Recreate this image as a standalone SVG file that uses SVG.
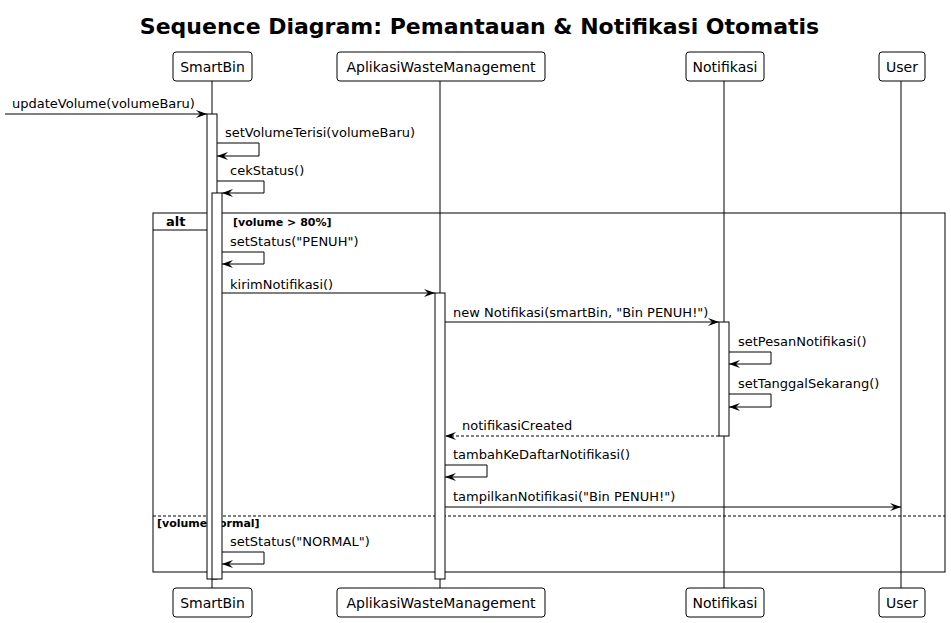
<svg xmlns="http://www.w3.org/2000/svg" width="951" height="623" viewBox="0 0 951 623">
<defs>
<style>
text{font-family:"DejaVu Sans",sans-serif;fill:#000}
.t{font-size:22px;font-weight:bold}
.p{font-size:14px}
.m{font-size:13px}
.g{font-size:11px;font-weight:bold}
.box{fill:#fff;stroke:#000;stroke-width:1}
.ll{stroke:#000;stroke-width:1}
.act{fill:#fff;stroke:#000;stroke-width:1}
.msg{fill:none;stroke:#000;stroke-width:1}
.dash{stroke-dasharray:3,2}
</style>
<marker id="ah" markerWidth="12" markerHeight="10" refX="11" refY="5" orient="auto" markerUnits="userSpaceOnUse">
<polygon points="0,1 11,5 0,9 4,5" fill="#000"/>
</marker>
</defs>
<rect width="951" height="623" fill="#fff"/>
<text class="t" x="479.5" y="34" text-anchor="middle">Sequence Diagram: Pemantauan &amp; Notifikasi Otomatis</text>

<g id="lifelines">
<line class="ll" x1="212" y1="81" x2="212" y2="588"/>
<line class="ll" x1="440" y1="81" x2="440" y2="588"/>
<line class="ll" x1="724" y1="81" x2="724" y2="588"/>
<line class="ll" x1="901" y1="81" x2="901" y2="588"/>
</g>

<g id="frame-alt">
<rect x="153" y="213" width="792" height="359" fill="none" stroke="#000" stroke-width="1"/>
<path d="M153,230 H208 L218,220 V213" fill="none" stroke="#000" stroke-width="1"/>
<text x="166" y="226" font-size="13" font-weight="bold">alt</text>
<text class="g" x="233" y="226">[volume &gt; 80%]</text>
<line x1="153" y1="516" x2="945" y2="516" stroke="#000" stroke-width="1" stroke-dasharray="3,2"/>
<text class="g" x="157" y="527">[volume normal]</text>
</g>

<g id="activations">
<rect class="act" x="207" y="114" width="10" height="465"/>
<rect class="act" x="212" y="193" width="10" height="386"/>
<rect class="act" x="435" y="293" width="10" height="286"/>
<rect class="act" x="719" y="322" width="10" height="114"/>
</g>

<g id="connectors">
<line class="msg" x1="5" y1="114" x2="207" y2="114" marker-end="url(#ah)"/>
<text class="m" x="12" y="108">updateVolume(volumeBaru)</text>

<polyline class="msg" points="217,143 259,143 259,156 217,156" marker-end="url(#ah)"/>
<text class="m" x="225" y="137">setVolumeTerisi(volumeBaru)</text>

<polyline class="msg" points="217,181 264,181 264,193 222,193" marker-end="url(#ah)"/>
<text class="m" x="230" y="175">cekStatus()</text>

<polyline class="msg" points="222,252 264,252 264,264 222,264" marker-end="url(#ah)"/>
<text class="m" x="230" y="246">setStatus("PENUH")</text>

<line class="msg" x1="222" y1="293" x2="435" y2="293" marker-end="url(#ah)"/>
<text class="m" x="230" y="289">kirimNotifikasi()</text>

<line class="msg" x1="445" y1="322" x2="719" y2="322" marker-end="url(#ah)"/>
<text class="m" x="453" y="317">new Notifikasi(smartBin, "Bin PENUH!")</text>

<polyline class="msg" points="729,352 771,352 771,364 729,364" marker-end="url(#ah)"/>
<text class="m" x="738" y="346">setPesanNotifikasi()</text>

<polyline class="msg" points="729,394 771,394 771,407 729,407" marker-end="url(#ah)"/>
<text class="m" x="738" y="388">setTanggalSekarang()</text>

<line class="msg dash" x1="719" y1="436" x2="445" y2="436" marker-end="url(#ah)"/>
<text class="m" x="462" y="430">notifikasiCreated</text>

<polyline class="msg" points="445,465 487,465 487,477 445,477" marker-end="url(#ah)"/>
<text class="m" x="453" y="459">tambahKeDaftarNotifikasi()</text>

<line class="msg" x1="445" y1="507" x2="901" y2="507" marker-end="url(#ah)"/>
<text class="m" x="453" y="501">tampilkanNotifikasi("Bin PENUH!")</text>

<polyline class="msg" points="222,552 264,552 264,564 222,564" marker-end="url(#ah)"/>
<text class="m" x="230" y="546">setStatus("NORMAL")</text>
</g>

<g id="SmartBin">
<rect class="box" x="173" y="52" width="79" height="29" rx="3"/>
<text class="p" x="212.5" y="71.5" text-anchor="middle">SmartBin</text>
<rect class="box" x="173" y="588" width="79" height="29" rx="3"/>
<text class="p" x="212.5" y="607.5" text-anchor="middle">SmartBin</text>
</g>
<g id="AplikasiWasteManagement">
<rect class="box" x="337" y="52" width="208" height="29" rx="3"/>
<text class="p" x="441" y="71.5" text-anchor="middle">AplikasiWasteManagement</text>
<rect class="box" x="337" y="588" width="208" height="29" rx="3"/>
<text class="p" x="441" y="607.5" text-anchor="middle">AplikasiWasteManagement</text>
</g>
<g id="Notifikasi">
<rect class="box" x="686" y="52" width="78" height="29" rx="3"/>
<text class="p" x="725" y="71.5" text-anchor="middle">Notifikasi</text>
<rect class="box" x="686" y="588" width="78" height="29" rx="3"/>
<text class="p" x="725" y="607.5" text-anchor="middle">Notifikasi</text>
</g>
<g id="User">
<rect class="box" x="879" y="52" width="46" height="29" rx="3"/>
<text class="p" x="902" y="71.5" text-anchor="middle">User</text>
<rect class="box" x="879" y="588" width="46" height="29" rx="3"/>
<text class="p" x="902" y="607.5" text-anchor="middle">User</text>
</g>
</svg>
